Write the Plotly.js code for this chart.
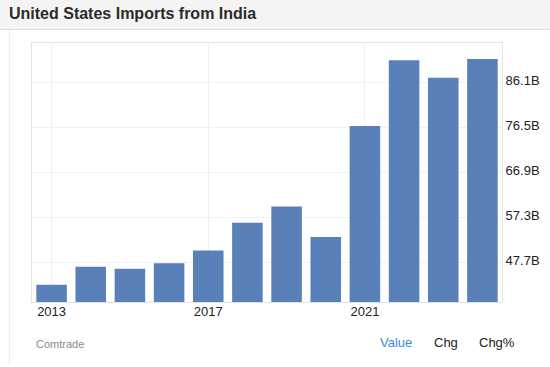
<!DOCTYPE html>
<html>
<head>
<meta charset="utf-8">
<script src="https://cdn.plot.ly/plotly-3.0.1.min.js"></script>
<style>
  html, body { margin: 0; padding: 0; background: #ffffff; }
  body { width: 550px; height: 367px; position: relative; overflow: hidden; font-family: "Liberation Sans", Arial, Helvetica, sans-serif; }
  #chart { position: absolute; left: 0; top: 0; width: 550px; height: 367px; }
  #header { position: absolute; left: 0; top: 0; width: 550px; height: 29px; background: #f4f4f4; border-bottom: 1px solid #dcdcdc; z-index: 2; }
  #title { position: absolute; left: 9px; top: 4px; font-size: 16px; font-weight: bold; color: #2b2b2b; line-height: 20px; white-space: nowrap; }
  #cardline { position: absolute; left: 9px; top: 30px; width: 1px; height: 335px; background: #ececec; z-index: 2; }
  .foot { position: absolute; white-space: nowrap; z-index: 2; }
  #src { left: 36px; top: 337px; font-size: 11px; color: #8a8a8a; line-height: 14px; }
  #v { left: 380px; top: 335px; font-size: 13px; color: #3f8ad6; line-height: 16px; }
  #c { left: 434px; top: 335px; font-size: 13px; color: #222; line-height: 16px; }
  #cp { left: 479px; top: 335px; font-size: 13px; color: #222; line-height: 16px; }
</style>
</head>
<body>
<div id="chart"></div>
<div id="header"><div id="title">United States Imports from India</div></div>
<div id="cardline"></div>
<div class="foot" id="src">Comtrade</div>
<div class="foot" id="v">Value</div>
<div class="foot" id="c">Chg</div>
<div class="foot" id="cp">Chg%</div>
<script>
const years = ['2013','2014','2015','2016','2017','2018','2019','2020','2021','2022','2023','2024'];
const importsBillionUSD = [43.0, 46.8, 46.4, 47.6, 50.3, 56.2, 59.7, 53.2, 76.9, 90.9, 87.2, 91.2];
const xTickYears = ['2013','2017','2021'];
const yTickValues = [47.7, 57.3, 66.9, 76.5, 86.1];
const yTickLabels = ['47.7B','57.3B','66.9B','76.5B','86.1B'];

const trace = {
  type: 'bar',
  x: years,
  y: importsBillionUSD,
  marker: { color: '#5a80ba', line: { width: 0 } },
  hoverinfo: 'x+y'
};

const layout = {
  width: 550,
  height: 367,
  margin: { l: 32, r: 48, t: 43, b: 65, pad: 0 },
  paper_bgcolor: 'rgba(0,0,0,0)',
  plot_bgcolor: '#ffffff',
  bargap: 0.22,
  showlegend: false,
  font: { family: '"Liberation Sans", Arial, Helvetica, sans-serif', size: 13, color: '#222222' },
  xaxis: {
    type: 'category',
    range: [-0.5, 11.5],
    tickmode: 'array',
    tickvals: xTickYears,
    ticktext: xTickYears,
    ticks: '',
    ticklabelstandoff: -3,
    showgrid: true,
    gridcolor: '#f1f1f1',
    gridwidth: 1,
    showline: true,
    linecolor: '#e4e4e4',
    linewidth: 1,
    mirror: true,
    zeroline: false,
    tickfont: { size: 13, color: '#222222' },
    fixedrange: true
  },
  yaxis: {
    side: 'right',
    range: [39.3, 94.6],
    tickmode: 'array',
    tickvals: yTickValues,
    ticktext: yTickLabels,
    ticks: '',
    ticklabelshift: -2,
    showgrid: true,
    gridcolor: '#f1f1f1',
    gridwidth: 1,
    showline: true,
    linecolor: '#e4e4e4',
    linewidth: 1,
    mirror: true,
    zeroline: false,
    tickfont: { size: 13, color: '#222222' },
    fixedrange: true
  }
};

Plotly.newPlot('chart', [trace], layout, { displayModeBar: false, staticPlot: true });
</script>
</body>
</html>
